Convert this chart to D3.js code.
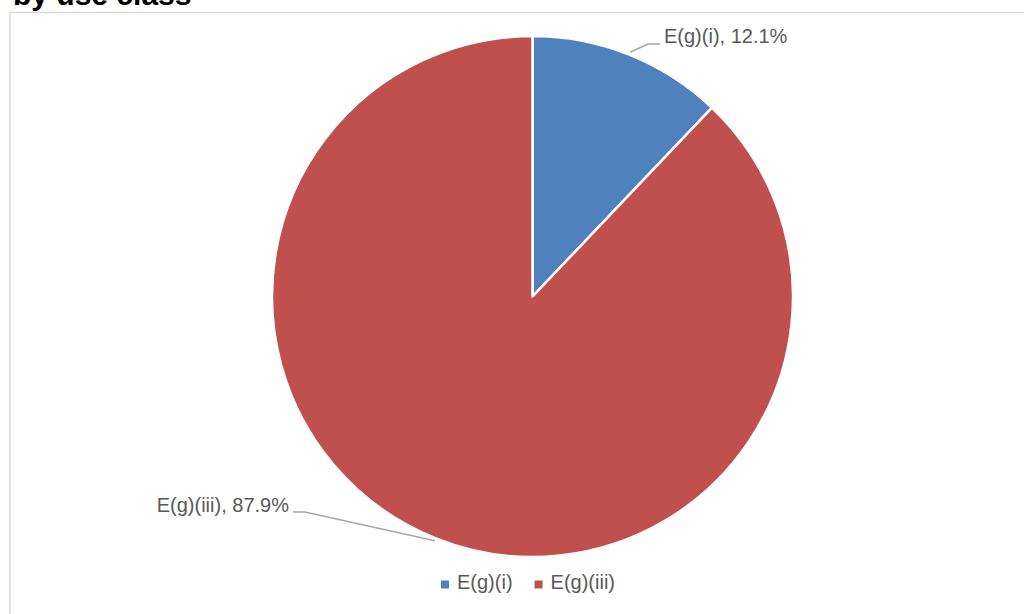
<!DOCTYPE html>
<html>
<head>
<meta charset="utf-8">
<script src="https://cdn.jsdelivr.net/npm/d3@7"></script>
<style>
  body { margin: 0; background: #fff; }
  svg { display: block; }
</style>
</head>
<body>
<svg id="svg01" width="1024" height="614"></svg>
<script>
// data
const categories = ["E(g)(i)", "E(g)(iii)"]
const values = [12.1, 87.9]
const colors = ["#4f81bd", "#c0504d"]
const title = "by use class"

const width = 1024, height = 614
const cx = 532.5, cy = 296.5, radius = 260.5
const font = "'Liberation Sans', Arial, sans-serif"

const svg = d3.select("#svg01")

// title (cut off at top in the source)
svg.append("text")
    .attr("x", 13)
    .attr("y", 5)
    .attr("font-family", font)
    .attr("font-weight", "bold")
    .attr("font-size", 30)
    .attr("fill", "#000")
    .text(title)

// chart area border
svg.append("rect")
    .attr("x", 10)
    .attr("y", 12.5)
    .attr("width", width + 20)
    .attr("height", height + 20)
    .attr("fill", "none")
    .attr("stroke", "#d9d9d9")
    .attr("stroke-width", 1.5)

const pie = d3.pie().sort(null).value(d => d)
const arcs = pie(values)

const arc = d3.arc().innerRadius(0).outerRadius(radius)

const g = svg.append("g").attr("transform", `translate(${cx},${cy})`)

g.selectAll("path.slice")
    .data(arcs)
    .join("path")
    .attr("class", "slice")
    .attr("d", arc)
    .attr("fill", (d, i) => colors[i])
    .attr("stroke", "#fff")
    .attr("stroke-width", 2.5)
    .attr("stroke-linejoin", "round")

// data labels with leader lines
// label anchor (relative to centre), elbow, text side
const labelLayout = [
    {elbow: [648 - cx, 44 - cy], end: [660 - cx, 44 - cy], tx: 664 - cx, ty: 43 - cy, anchor: "start"},
    {elbow: [305 - cx, 512 - cy], end: [293 - cx, 512 - cy], tx: 289 - cx, ty: 512 - cy, anchor: "end"}
]

const outer = d3.arc().innerRadius(radius + 2.5).outerRadius(radius + 2.5)

arcs.forEach((d, i) => {
    const L = labelLayout[i]
    const p0 = outer.centroid(d)
    g.append("polyline")
        .attr("points", [p0, L.elbow, L.end].map(p => p.join(",")).join(" "))
        .attr("fill", "none")
        .attr("stroke", "#a6a6a6")
        .attr("stroke-width", 1.5)
    g.append("text")
        .attr("x", L.tx)
        .attr("y", L.ty)
        .attr("text-anchor", L.anchor)
        .attr("font-family", font)
        .attr("font-size", 20)
        .attr("fill", "#595959")
        .text(`${categories[i]}, ${d3.format(".1f")(values[i])}%`)
})

// legend
const legend = svg.append("g")
let lx = 441
categories.forEach((c, i) => {
    const item = legend.append("g").attr("transform", `translate(${lx},0)`)
    item.append("rect")
        .attr("x", 0)
        .attr("y", 580.5)
        .attr("width", 8)
        .attr("height", 8)
        .attr("fill", colors[i])
    const t = item.append("text")
        .attr("x", 16)
        .attr("y", 589)
        .attr("font-family", font)
        .attr("font-size", 20)
        .attr("fill", "#595959")
        .text(c)
    lx += 16 + t.node().getComputedTextLength() + 22
})
</script>
</body>
</html>
